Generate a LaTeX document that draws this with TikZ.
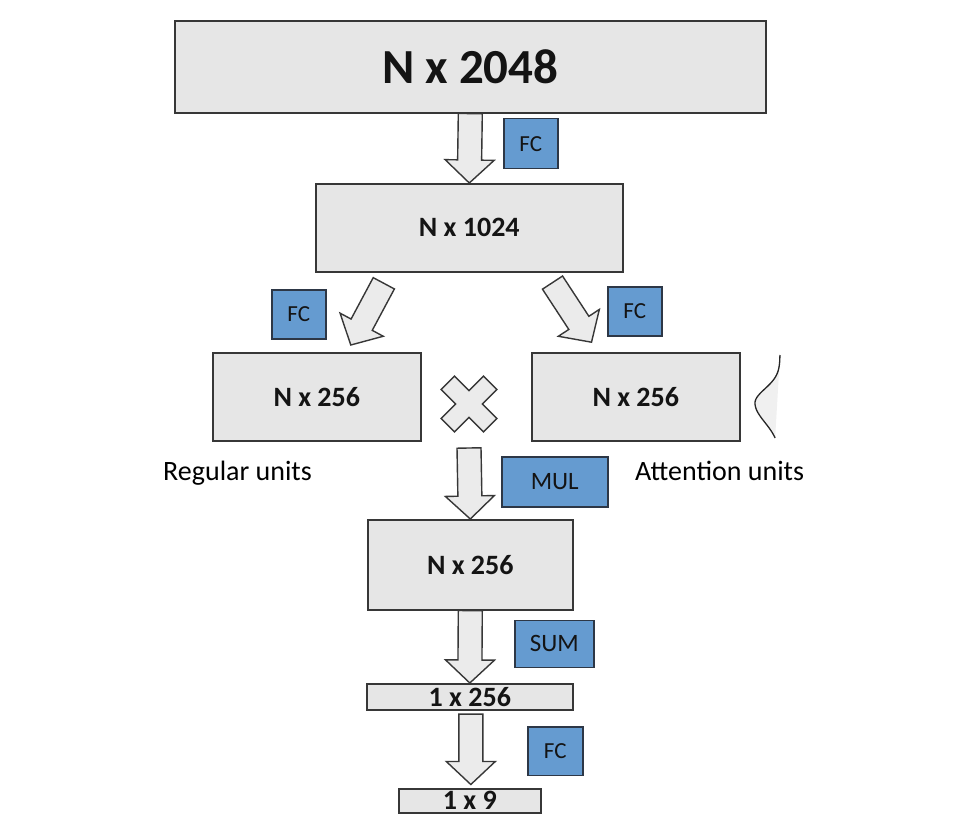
\documentclass[tikz,border=0pt]{standalone}
\usepackage{fontspec}
\setmainfont{Carlito}
\usetikzlibrary{calc}
\definecolor{boxfill}{RGB}{230,230,230}
\definecolor{boxline}{RGB}{55,55,55}
\definecolor{opfill}{RGB}{101,155,208}
\definecolor{opline}{RGB}{45,55,70}
\definecolor{arrfill}{RGB}{235,235,235}
\definecolor{gaussfill}{RGB}{240,240,240}
\definecolor{textdark}{RGB}{20,20,20}
\newcommand\blockarrow[2]{%
  \draw[blockarr] let \p1=(#1), \p2=(#2),
    \n1={atan2(\y2-\y1,\x2-\x1)}, \n2={veclen(\x2-\x1,\y2-\y1)} in
    ($(\p1)+(\n1+90:12pt)$)
    -- ($(\p1)+(\n1:\n2-23pt)+(\n1+90:12pt)$)
    -- ($(\p1)+(\n1:\n2-23pt)+(\n1+90:24.5pt)$)
    -- (\p2)
    -- ($(\p1)+(\n1:\n2-23pt)+(\n1-90:24.5pt)$)
    -- ($(\p1)+(\n1:\n2-23pt)+(\n1-90:12pt)$)
    -- ($(\p1)+(\n1-90:12pt)$) -- cycle;}
\tikzset{
  databox/.style={draw=boxline, fill=boxfill, line width=1.6pt, inner sep=0pt, anchor=north west,
    text=textdark, font=\fontsize{28}{30}\selectfont\bfseries},
  opbox/.style={draw=opline, fill=opfill, line width=1.5pt, inner sep=0pt, anchor=north west,
    text=textdark, font=\fontsize{23}{25}\selectfont},
  blockarr/.style={draw=boxline, fill=arrfill, line width=1.4pt, line join=miter},
  unitlabel/.style={font=\fontsize{28}{30}\selectfont, inner sep=0pt, anchor=base west},
}
\begin{document}
\begin{tikzpicture}[x=1pt, y=1pt]
\useasboundingbox (0,0) rectangle (974,-826);
\fill[white] (0,0) rectangle (974,-826);

% data boxes
\node[databox, minimum width=591, minimum height=92, font=\fontsize{49}{52}\selectfont\bfseries] (b2048) at (174,-20) {N x 2048};
\node[databox, minimum width=307, minimum height=88] (b1024) at (315,-183) {N x 1024};
\node[databox, minimum width=208, minimum height=88] (bleft) at (212,-352) {N x 256};
\node[databox, minimum width=208, minimum height=88] (bright) at (531,-352) {N x 256};
\node[databox, minimum width=205, minimum height=90] (bmul) at (367,-519) {N x 256};
\node[databox, minimum width=206, minimum height=26] (b1x256) at (366,-683) {1 x 256};
\node[databox, minimum width=142, minimum height=24] (b1x9) at (398,-788) {1 x 9};

% operation labels
\node[opbox, minimum width=54, minimum height=50] (fc1) at (503,-118) {FC};
\node[opbox, minimum width=54, minimum height=49] (fcl) at (271,-289) {FC};
\node[opbox, minimum width=54, minimum height=49] (fcr) at (607,-286) {FC};
\node[opbox, minimum width=106, minimum height=50, font=\fontsize{25}{27}\selectfont] (mul) at (501,-456) {MUL};
\node[opbox, minimum width=79, minimum height=47, font=\fontsize{25}{27}\selectfont] (sum) at (514,-619.5) {SUM};
\node[opbox, minimum width=55, minimum height=48.5] (fc5) at (527,-726) {FC};

% unit labels
\node[unitlabel] (lreg) at (163,-480) {Regular units};
\node[unitlabel] (latt) at (635,-480) {Attention units};

% multiplication cross
\coordinate (cross) at (469,-404);
\draw[blockarr, shift={(cross)}, rotate=45]
  (9.5,9.5) -- (30,9.5) -- (30,-9.5) -- (9.5,-9.5) -- (9.5,-30) -- (-9.5,-30) -- (-9.5,-9.5)
  -- (-30,-9.5) -- (-30,9.5) -- (-9.5,9.5) -- (-9.5,30) -- (9.5,30) -- cycle;

% gaussian
\fill[gaussfill] plot[domain=355:403, samples=40] ({780-25*exp(-(\x-403)*(\x-403)/400)}, {-\x})
  -- plot[domain=403:438, samples=30] ({780-25*exp(-(\x-403)*(\x-403)/750)}, {-\x}) -- (780,-355) -- cycle;
\draw[line width=1.3pt, black!85] plot[domain=355:403, samples=40] ({780-25*exp(-(\x-403)*(\x-403)/400)}, {-\x})
  -- plot[domain=403:438, samples=30] ({780-25*exp(-(\x-403)*(\x-403)/750)}, {-\x});

% block arrows
\coordinate (l1) at ($(b1024.south)+(-85.5,-10.7)$);
\coordinate (l2) at ($(bleft.north)+(34,7)$);
\coordinate (r1) at ($(b1024.south)+(83.2,-10)$);
\coordinate (r2) at ($(bright.north)+(-44.3,9.8)$);
\coordinate (m1) at ($(cross)+(0,-44)$);
\coordinate (f1) at ($(b1x256.south)+(1,-3.5)$);
\coordinate (f2) at ($(b1x9.north)+(1,3.5)$);
\blockarrow{b2048.south}{b1024.north}
\blockarrow{l1}{l2}
\blockarrow{r1}{r2}
\blockarrow{m1}{bmul.north}
\blockarrow{bmul.south}{b1x256.north}
\blockarrow{f1}{f2}
\end{tikzpicture}
\end{document}
